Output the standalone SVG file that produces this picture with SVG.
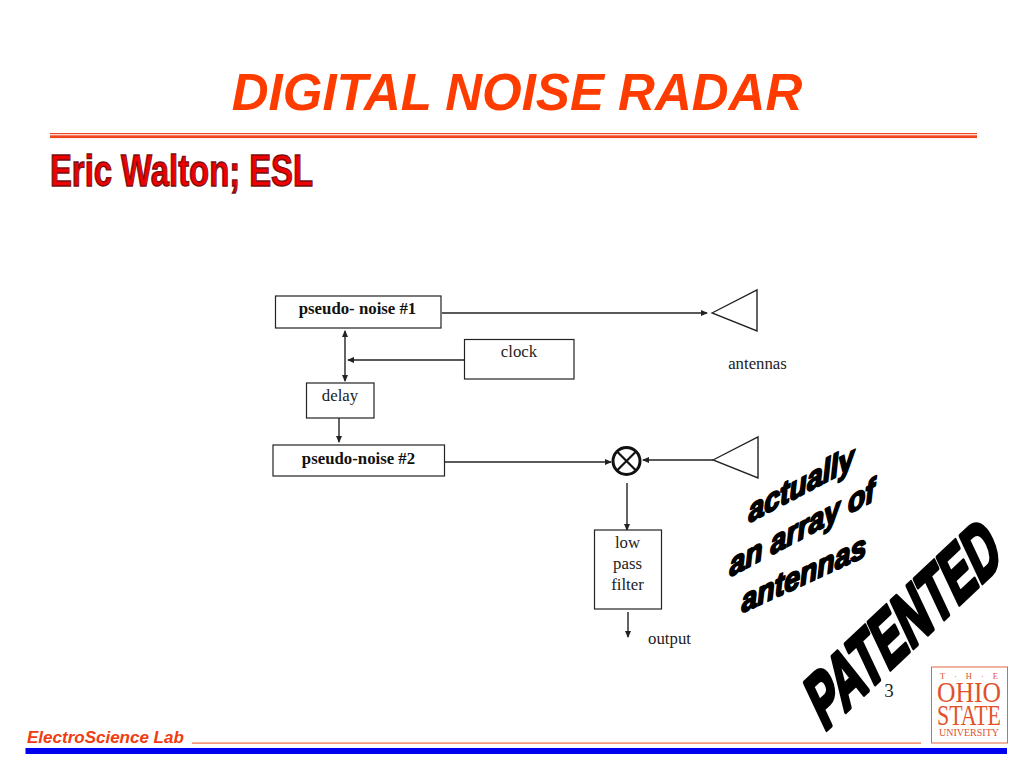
<svg xmlns="http://www.w3.org/2000/svg" width="1024" height="768" viewBox="0 0 1024 768">
<style>
.box{fill:#fff;stroke:#222;stroke-width:1.2}
.ln{fill:none;stroke:#222;stroke-width:1.4}
.t{font-family:"Liberation Serif",serif;font-size:16.8px;fill:#222;text-anchor:middle}
.b{font-weight:bold;fill:#111}
.art{font-family:"Liberation Sans",sans-serif;font-weight:bold;fill:#000;stroke:#000;stroke-linejoin:round}
.logo{font-family:"Liberation Serif",serif;fill:#e2522a;text-anchor:middle}
</style>
<defs>
<marker id="ah" markerWidth="7" markerHeight="6" refX="6" refY="3" orient="auto-start-reverse" markerUnits="userSpaceOnUse"><path d="M0 0L7 3L0 6Z" fill="#222"/></marker>
</defs>
<rect width="1024" height="768" fill="#fff"/>
<g id="header">
<text x="517" y="110" text-anchor="middle" font-family="Liberation Sans, sans-serif" font-weight="bold" font-style="italic" font-size="51" fill="#ff3c00">DIGITAL NOISE RADAR</text>
<rect x="50" y="133" width="927" height="1.2" fill="#f0461e"/>
<rect x="50" y="135.3" width="927" height="2.8" fill="#f0461e"/>
<text transform="translate(50 185.500) scale(1 1.4)" font-family="Liberation Sans, sans-serif" font-weight="bold" font-size="32" fill="#f00000" stroke="#7a1010" stroke-width="1" textLength="263" lengthAdjust="spacingAndGlyphs">Eric Walton; ESL</text>
</g>
<g id="connectors">
<path class="ln" d="M442 313H707" marker-end="url(#ah)"/>
<path class="ln" d="M345 331V381" marker-start="url(#ah)" marker-end="url(#ah)"/>
<path class="ln" d="M465 360H348" marker-end="url(#ah)"/>
<path class="ln" d="M339 418V442" marker-end="url(#ah)"/>
<path class="ln" d="M445 462H611" marker-end="url(#ah)"/>
<path class="ln" d="M713 460H643" marker-end="url(#ah)"/>
<path class="ln" d="M627 483V530" marker-end="url(#ah)"/>
<path class="ln" d="M628 612V637" marker-end="url(#ah)"/>
</g>
<g id="pn1"><rect class="box" x="275.500" y="296" width="165.500" height="32"/><text class="t b" x="357.500" y="314">pseudo- noise #1</text></g>
<g id="clock"><rect class="box" x="464.500" y="339.500" width="109.500" height="39.500"/><text class="t" x="519" y="357">clock</text></g>
<g id="delay"><rect class="box" x="306.500" y="383" width="67.500" height="35"/><text class="t" x="340" y="401">delay</text></g>
<g id="pn2"><rect class="box" x="273" y="445" width="171.500" height="31"/><text class="t b" x="358.500" y="464">pseudo-noise #2</text></g>
<g id="filter"><rect class="box" x="594.500" y="530" width="67" height="79"/><text class="t" x="627.500" y="548">low</text><text class="t" x="627.500" y="569">pass</text><text class="t" x="627.500" y="590">filter</text></g>
<g id="mixer"><circle cx="626.500" cy="461" r="13.500" fill="#fff" stroke="#111" stroke-width="3"/><path d="M617 451.500L636 470.500M636 451.500L617 470.500" stroke="#111" stroke-width="2.200"/></g>
<g id="antenna1"><path class="ln" d="M712 313L757 290V331Z" fill="#fff"/></g>
<g id="antenna2"><path class="ln" d="M713 460L758 437V478Z" fill="#fff"/></g>
<text class="t" x="757.500" y="369">antennas</text>
<text class="t" x="669.500" y="644">output</text>
<g id="annotations">
<text class="art" font-style="italic" font-size="29" stroke-width="1.800" transform="matrix(.98 -.52 .06 1.1 749 523)">actually</text>
<text class="art" font-style="italic" font-size="29" stroke-width="1.800" transform="matrix(.98 -.52 .06 1.1 730 577)">an array of</text>
<text class="art" font-style="italic" font-size="29" stroke-width="1.800" transform="matrix(.98 -.45 .06 1.1 742 613)">antennas</text>
<text class="art" font-size="50" stroke-width="3" transform="matrix(.69 -.65 .64 1.36 824 732)">PATENTED</text>
</g>
<text x="889" y="697" text-anchor="middle" font-family="Liberation Serif, serif" font-size="19" fill="#222">3</text>
<g id="logo">
<rect x="931.500" y="667" width="76" height="76" fill="#fff" stroke="#e2693f" stroke-width="1"/>
<text class="logo" x="969" y="679" font-size="8.500" textLength="58">T · H · E</text>
<text class="logo" x="969" y="702" font-size="29" textLength="64" lengthAdjust="spacingAndGlyphs">OHIO</text>
<text class="logo" x="969" y="725" font-size="29" textLength="64" lengthAdjust="spacingAndGlyphs">STATE</text>
<text class="logo" x="969" y="736" font-size="9.500" textLength="60" lengthAdjust="spacingAndGlyphs">UNIVERSITY</text>
</g>
<g id="footer">
<text x="27" y="743" font-family="Liberation Sans, sans-serif" font-weight="bold" font-style="italic" font-size="17" fill="#f03c10">ElectroScience Lab</text>
<rect x="192" y="742.500" width="729" height="1.200" fill="#ee6a40"/>
<rect x="25.500" y="748" width="981.500" height="6" fill="#0000f0"/>
</g>
</svg>
